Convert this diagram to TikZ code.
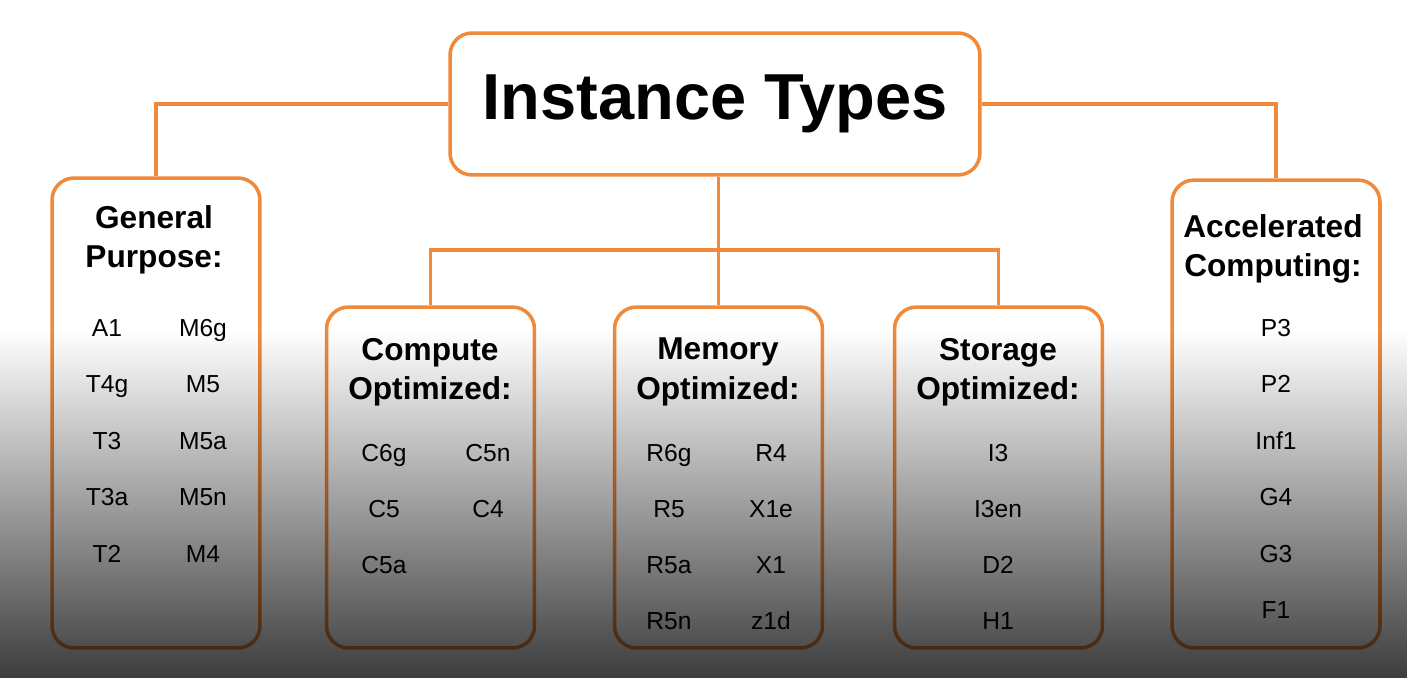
\documentclass[tikz,border=0pt]{standalone}
\usepackage{fontspec}
\setmainfont{Liberation Sans}
\usetikzlibrary{positioning, calc}
\definecolor{awsorange}{RGB}{240,138,58}

\begin{document}
\begin{tikzpicture}[x=0.02cm, y=-0.02cm,
    catbox/.style = {rectangle, draw=awsorange, line width=2pt, rounded corners=0.44cm, minimum width=4.16cm, inner sep=0pt},
    head/.style = {align=center, font=\fontsize{18}{22.5}\selectfont\bfseries},
    item/.style = {font=\fontsize{14}{16}\selectfont, text height=10pt, text depth=3pt},
    link/.style = {draw=awsorange, line width=2pt}
]

% Page
\useasboundingbox (0,0) rectangle (1407,677);
\fill[white] (0,0) rectangle (1407,677);

% Title
\node (title) [catbox, minimum width=10.6cm, minimum height=2.84cm, font=\fontsize{37}{40}\selectfont\bfseries] at (715,104) {Instance Types};

% Category boxes
\node (gp) [catbox, minimum height=9.4cm] at (156,413) {};
\node (co) [catbox, minimum height=6.82cm] at (430.5,477.5) {};
\node (mo) [catbox, minimum height=6.82cm] at (718.5,477.5) {};
\node (so) [catbox, minimum height=6.82cm] at (998.5,477.5) {};
\node (ac) [catbox, minimum height=9.36cm] at (1276,414) {};

% Headings
\node (gph) [head] at (154,240) {General\\Purpose:};
\node (coh) [head] at (430,372) {Compute\\Optimized:};
\node (moh) [head] at (718,372) {Memory\\Optimized:};
\node (soh) [head] at (998,372) {Storage\\Optimized:};
\node (ach) [head] at (1273,249) {Accelerated\\Computing:};

% Connectors
\draw [link] (title.west) -| (gp.north);
\draw [link] (title.east) -| (ac.north);
\draw [link] (title.south -| mo.north) -- (mo.north);
\draw [link] (co.north) |- ($(title.south)!0.57!(mo.north)$) -| (so.north);

% Instance lists
\foreach \t [count=\i] in {A1,T4g,T3,T3a,T2}
    \node (gpa\i) [item] at (107,273.5+56.5*\i) {\t};
\foreach \t [count=\i] in {M6g,M5,M5a,M5n,M4}
    \node (gpb\i) [item] at (203,273.5+56.5*\i) {\t};
\foreach \t [count=\i] in {C6g,C5,C5a}
    \node (coa\i) [item] at (384,399.5+56*\i) {\t};
\foreach \t [count=\i] in {C5n,C4}
    \node (cob\i) [item] at (488,399.5+56*\i) {\t};
\foreach \t [count=\i] in {R6g,R5,R5a,R5n}
    \node (moa\i) [item] at (669,399.5+56*\i) {\t};
\foreach \t [count=\i] in {R4,X1e,X1,z1d}
    \node (mob\i) [item] at (771,399.5+56*\i) {\t};
\foreach \t [count=\i] in {I3,I3en,D2,H1}
    \node (soa\i) [item] at (998,399.5+56*\i) {\t};
\foreach \t [count=\i] in {P3,P2,Inf1,G4,G3,F1}
    \node (aca\i) [item] at (1276,273.5+56.5*\i) {\t};

% Shadow gradient over the lower half
\begin{scope}[blend mode=multiply]
\shade [top color=white, bottom color=black!76] (0,330) rectangle (1407,677);
\end{scope}

\end{tikzpicture}
\end{document}
